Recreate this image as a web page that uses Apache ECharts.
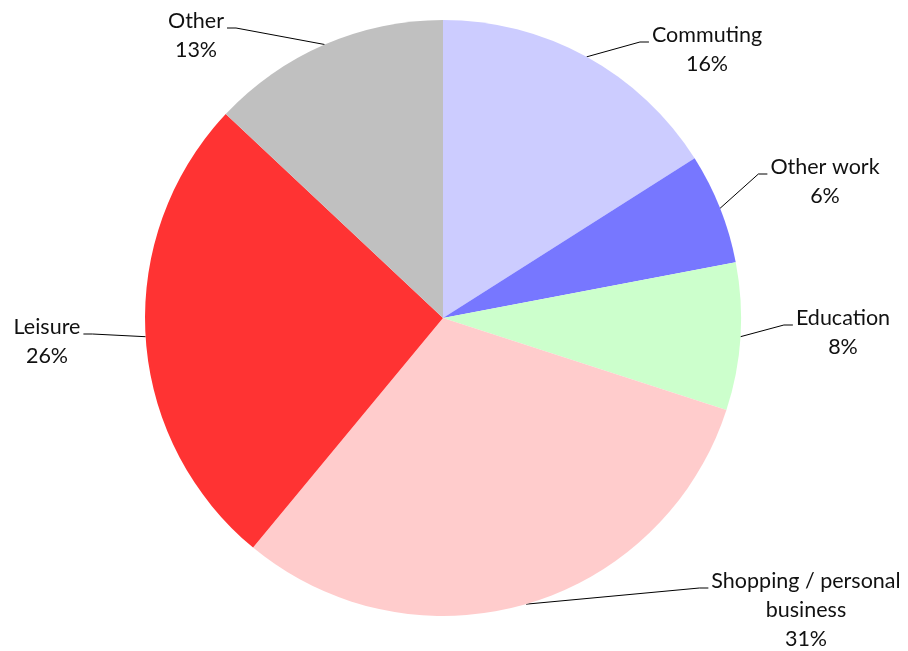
<!DOCTYPE html>
<html>
<head>
<meta charset="utf-8">
<script src="https://cdn.jsdelivr.net/npm/echarts@6/dist/echarts.min.js"></script>
<style>
  html, body { margin: 0; padding: 0; background: #fff; }
  #chart { width: 908px; height: 651px; }
</style>
</head>
<body>
<div id="chart"></div>
<script>
// Trip purposes, share of all trips (%)
const purposes = ['Commuting', 'Other work', 'Education', 'Shopping / personal\nbusiness', 'Leisure', 'Other'];
const shares = [16, 6, 8, 31, 26, 13];
const sliceColors = ['#ccccff', '#7777ff', '#ccffcc', '#ffcccc', '#ff3333', '#c0c0c0'];

// Label anchors: horizontal centre and top of each text block, plus which side of the line it sits
const labelAnchors = [
  { cx: 707, top: 21, side: 'right' },
  { cx: 825, top: 153, side: 'right' },
  { cx: 843, top: 304, side: 'right' },
  { cx: 806, top: 567, side: 'right' },
  { cx: 47, top: 313, side: 'left' },
  { cx: 196, top: 7, side: 'left' }
];

const chart = echarts.init(document.getElementById('chart'), null, { renderer: 'canvas' });

chart.setOption({
  animation: false,
  backgroundColor: '#ffffff',
  series: [{
    type: 'pie',
    center: [443, 318],
    radius: [0, 298],
    startAngle: 90,
    clockwise: true,
    avoidLabelOverlap: false,
    data: purposes.map((name, i) => ({
      name: name,
      value: shares[i],
      itemStyle: { color: sliceColors[i] }
    })),
    itemStyle: { borderWidth: 0 },
    emphasis: { disabled: true },
    label: {
      show: true,
      position: 'outside',
      formatter: '{b}\n{c}%',
      fontFamily: 'Lato',
      fontSize: 21.5,
      lineHeight: 29,
      color: '#111111',
      align: 'center'
    },
    labelLine: {
      show: true,
      length: 10,
      length2: 10,
      smooth: false,
      lineStyle: { color: '#000000', width: 1 }
    },
    labelLayout: function (params) {
      const a = labelAnchors[params.dataIndex];
      const w = params.labelRect.width;
      const attachY = a.top + 21;
      let attachX, bendX;
      if (a.side === 'right') {
        attachX = a.cx - w / 2 - 3;
        bendX = attachX - 9;
      } else {
        attachX = a.cx + w / 2 + 3;
        bendX = attachX + 9;
      }
      const start = params.labelLinePoints ? params.labelLinePoints[0] : [attachX, attachY];
      return {
        x: a.cx,
        y: a.top,
        align: 'center',
        verticalAlign: 'top',
        labelLinePoints: [start, [bendX, attachY], [attachX, attachY]]
      };
    }
  }]
});
</script>
</body>
</html>
